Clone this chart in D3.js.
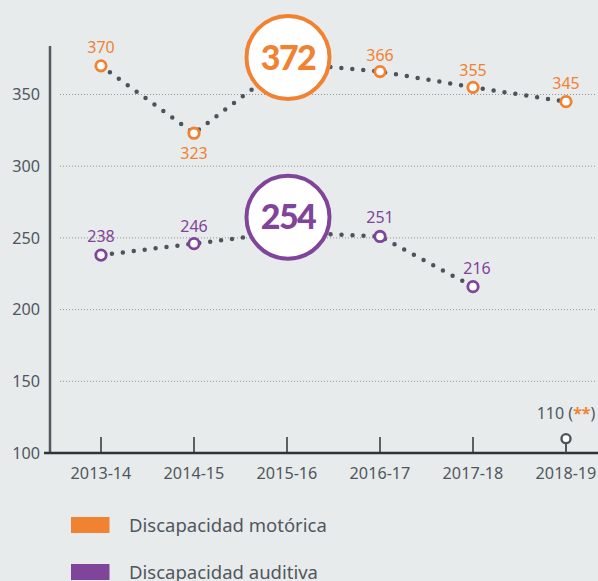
<!DOCTYPE html>
<html><head><meta charset="utf-8">
<script src="https://cdn.jsdelivr.net/npm/d3@7"></script>
<style>
html,body{margin:0;padding:0;background:#e8ebec;}
svg{display:block;font-family:"Noto Sans",sans-serif;font-weight:400;}
</style></head><body>
<svg id="c" width="598" height="581"></svg>
<script>
const categories = ["2013-14","2014-15","2015-16","2016-17","2017-18","2018-19"];
const motorica = [370,323,372,366,355,345];
const auditiva = [238,246,254,251,216,null];
const extraValue = 110;
const extraCategory = "2018-19";
const highlightIndex = 2;
const yTicks = [100,150,200,250,300,350];
const legendLabels = ["Discapacidad motórica","Discapacidad auditiva"];

const ORANGE="#f08232", PURPLE="#80449a", DARK="#4d5459", TXT="#50575c";
const svg = d3.select("#c");
const x = d3.scalePoint().domain(categories).range([101,566]);
const y = d3.scaleLinear().domain([100,350]).range([453,94.5]);

// gridlines
svg.append("g").selectAll("line").data(yTicks.filter(d=>d>100)).join("line")
  .attr("x1",60).attr("x2",596).attr("y1",d=>y(d)).attr("y2",d=>y(d))
  .attr("stroke","#8e9498").attr("stroke-width",1).attr("stroke-dasharray","1,2");

// y labels
svg.append("g").selectAll("text").data(yTicks).join("text")
  .attr("x",40).attr("y",d=>y(d)).attr("dy","0.36em").attr("text-anchor","end")
  .attr("font-size",16.2).attr("fill",TXT).text(d=>d);

// axes
svg.append("line").attr("x1",50).attr("x2",50).attr("y1",46).attr("y2",454)
  .attr("stroke","#55595d").attr("stroke-width",2.5);
svg.append("line").attr("x1",44).attr("x2",598).attr("y1",453).attr("y2",453)
  .attr("stroke","#2f3336").attr("stroke-width",2.5);
svg.append("g").selectAll("line").data(categories).join("line")
  .attr("x1",d=>x(d)).attr("x2",d=>x(d)).attr("y1",437).attr("y2",453)
  .attr("stroke","#2f3336").attr("stroke-width",1.5);
svg.append("g").selectAll("text").data(categories).join("text")
  .attr("x",d=>x(d)).attr("y",473).attr("dy","0.36em").attr("text-anchor","middle")
  .attr("font-size",16.2).attr("fill",TXT).text(d=>d);

function series(vals, color, bigOffset, labelPos){
  const pts = vals.map((v,i)=>({v,i,c:categories[i]})).filter(d=>d.v!=null);
  const line = d3.line().x(d=>x(d.c)).y(d=>y(d.v));
  svg.append("path").attr("d",line(pts)).attr("fill","none")
    .attr("stroke",DARK).attr("stroke-width",4.5).attr("stroke-linecap","round")
    .attr("stroke-dasharray","0,11");
  const g = svg.append("g");
  pts.forEach(d=>{
    if(d.i===highlightIndex){
      const cy = y(d.v)+bigOffset;
      g.append("circle").attr("cx",x(d.c)+1).attr("cy",cy).attr("r",41.5)
        .attr("fill","#fff").attr("stroke",color).attr("stroke-width",4);
      g.append("text").attr("x",x(d.c)+1).attr("y",cy).attr("dy","0.36em")
        .attr("text-anchor","middle").attr("font-size",34).attr("font-weight",900)
        .attr("letter-spacing",-1.5).attr("font-family","Lato,sans-serif")
        .attr("fill",color).text(d.v);
    } else {
      g.append("circle").attr("cx",x(d.c)).attr("cy",y(d.v)).attr("r",5.2)
        .attr("fill","#fff").attr("stroke",color).attr("stroke-width",2.8);
      const p = labelPos[d.i];
      g.append("text").attr("x",x(d.c)+p[0]).attr("y",y(d.v)+p[1]).attr("dy","0.36em")
        .attr("text-anchor","middle").attr("font-size",16).attr("fill",color).text(d.v);
    }
  });
}
series(motorica, ORANGE, -5.5, [[0,-19],[0,20],[0,0],[0,-16],[0,-17],[0,-18]]);
series(auditiva, PURPLE, -15, [[0,-19],[0,-17],[0,-18],[0,-19],[4,-18],[0,0]]);

// extra point
const ex = x(extraCategory), ey = y(extraValue);
svg.append("line").attr("x1",ex).attr("x2",ex).attr("y1",ey).attr("y2",453)
  .attr("stroke",DARK).attr("stroke-width",1.5);
svg.append("circle").attr("cx",ex).attr("cy",ey).attr("r",4.5)
  .attr("fill","#fff").attr("stroke",DARK).attr("stroke-width",2.4);
const et = svg.append("text").attr("x",ex).attr("y",ey-25).attr("dy","0.36em")
  .attr("text-anchor","middle").attr("font-size",16).attr("fill",TXT);
et.append("tspan").text(extraValue+" (");
et.append("tspan").attr("fill",ORANGE).attr("font-weight","bold").text("**");
et.append("tspan").text(")");

// legend
const lg = svg.append("g").selectAll("g").data(legendLabels).join("g")
  .attr("transform",(d,i)=>`translate(71,${517+i*47})`);
lg.append("rect").attr("width",38.5).attr("height",16).attr("fill",(d,i)=>i?PURPLE:ORANGE);
lg.append("text").attr("x",58).attr("y",8).attr("dy","0.36em")
  .attr("font-size",18.5).attr("fill",TXT).text(d=>d);
</script></body></html>
